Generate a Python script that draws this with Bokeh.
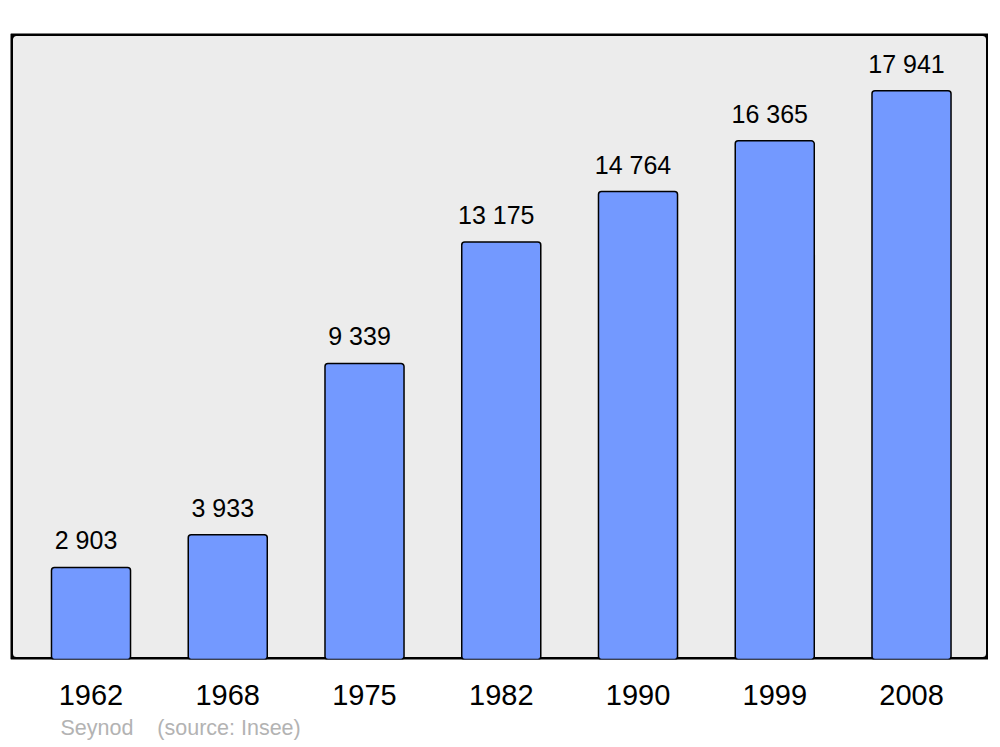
from bokeh.plotting import figure
from bokeh.models import BoxAnnotation, FixedTicker, Range1d, Title, ColumnDataSource
from bokeh.core.properties import value
from bokeh.embed import file_html
from bokeh.resources import INLINE

years = ["1962", "1968", "1975", "1982", "1990", "1999", "2008"]
population = [2903, 3933, 9339, 13175, 14764, 16365, 17941]
labels = [f"{v:,}".replace(",", " ") for v in population]
xs = list(range(len(years)))

FONT = "Liberation Sans"

p = figure(width=988, height=745, output_backend="svg", toolbar_location=None,
           x_range=Range1d(-0.5887, 6.563), y_range=Range1d(0, 19750),
           y_axis_location=None, min_border_left=10, min_border_right=0,
           min_border_top=33, min_border_bottom=0)
p.background_fill_color = "white"
p.border_fill_color = "white"
p.outline_line_color = None
p.xgrid.visible = False
p.ygrid.visible = False

frame_box = BoxAnnotation(level="underlay", fill_color="#ececec", fill_alpha=1,
                          line_color="black", line_alpha=1, line_width=5, border_radius=6)
p.add_layout(frame_box)

src = ColumnDataSource(dict(x=xs, top=population, label=labels))
p.vbar(x="x", top="top", bottom=0, width=0.578, source=src,
       fill_color="#7399ff", line_color="black", line_width=1.5, border_radius=3)
p.text(x="x", y="top", text="label", source=src, text_align="center",
       text_baseline="alphabetic", y_offset=-27, x_offset=-5,
       text_font=value(FONT), text_font_size="25px", text_color="black")

ax = p.xaxis[0]
ax.ticker = FixedTicker(ticks=xs)
ax.major_label_overrides = {i: y for i, y in zip(xs, years)}
ax.axis_line_color = None
ax.major_tick_line_color = None
ax.minor_tick_line_color = None
ax.major_tick_in = 0
ax.major_tick_out = 0
ax.major_label_standoff = 25
ax.major_label_text_font = FONT
ax.major_label_text_font_size = "29px"
ax.major_label_text_color = "black"

footer = Title(text="Seynod\u00a0\u00a0\u00a0\u00a0(source: Insee)", align="left", offset=50,
               text_font=FONT, text_font_size="21.5px", text_font_style="normal",
               text_color="#b3b3b3", standoff=12)
p.add_layout(footer, "below")

open("out.html", "w").write(file_html(p, INLINE))
